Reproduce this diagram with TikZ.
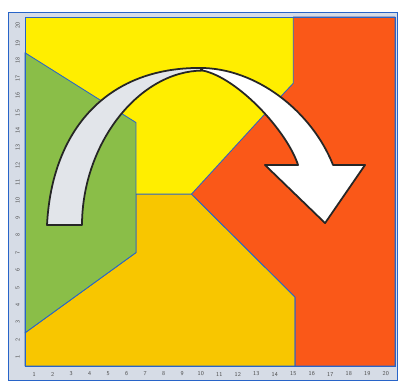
\documentclass[tikz,border=0pt]{standalone}
\usepackage{tikz}
\usepackage{xcolor}
\usetikzlibrary{arrows.meta,calc}

\definecolor{zoneyellow}{RGB}{255,238,0}
\definecolor{zonegold}{RGB}{248,198,0}
\definecolor{zonered}{RGB}{250,88,24}
\definecolor{zonegreen}{RGB}{138,190,72}
\definecolor{zoneblue}{RGB}{40,100,200}
\definecolor{stripgray}{RGB}{214,220,230}
\definecolor{bandgray}{RGB}{226,229,234}

\begin{document}
\begin{tikzpicture}[x=0.925cm, y=0.8725cm,
  zone/.style={draw=zoneblue, line width=1.2pt, line join=round},
  band/.style={draw=black!85, line width=2.5pt, line join=round},
  tick/.style={font=\sffamily\fontsize{8.5}{9}\selectfont, text=black!70, inner sep=0pt}]
\useasboundingbox (-1.351,-0.86) rectangle (20.162,20.974);
% frame with the scale strip
\draw [fill=stripgray, draw=zoneblue, line width=1.2pt] (-0.919,-0.84) rectangle (20.11,20.29);

% zones
\fill [zoneyellow] (0,0) rectangle (20,20);
\draw [zone, fill=zonegold] (0,0) -- (0,1.9) -- (6,6.5) -- (6,9.85) -- (9,9.85) -- (14.6,3.95) -- (14.6,0) -- cycle;
\draw [zone, fill=zonegreen] (0,1.9) -- (0,17.95) -- (6,13.95) -- (6,6.5) -- cycle;
\draw [zone, fill=zonered] (9,9.85) -- (14.0,15.64) -- (14.5,16.2) -- (14.5,20) -- (20,20) -- (20,0) -- (14.6,0) -- (14.6,3.95) -- cycle;
\draw [zoneblue, line width=1.2pt] (0,0) rectangle (20,20);

% curved arrow
\filldraw [band, fill=bandgray] (1.19,8.08) .. controls (1.45,13.5) and (4.4,17.1) .. (9.46,17.08)
    -- (9.62,16.93) .. controls (6.2,16.93) and (3.1,12.8) .. (3.08,8.08) -- cycle;
\filldraw [band, fill=white] (9.46,17.08) .. controls (12.5,17.08) and (15.5,14.6) .. (16.65,11.52)
    -- (18.38,11.52) -- (16.22,8.19) -- (12.97,11.52) -- (14.76,11.52)
    .. controls (14.14,13.5) and (11.5,16.5) .. (9.62,16.93) -- cycle;

% scale numbers
\foreach \i in {1,...,20} {
    \node [tick] (xl\i) at (\i-0.5,-0.46) {\i};
    \node [tick, rotate=90] (yl\i) at (-0.4,\i-0.5) {\i};
}
\end{tikzpicture}
\end{document}
